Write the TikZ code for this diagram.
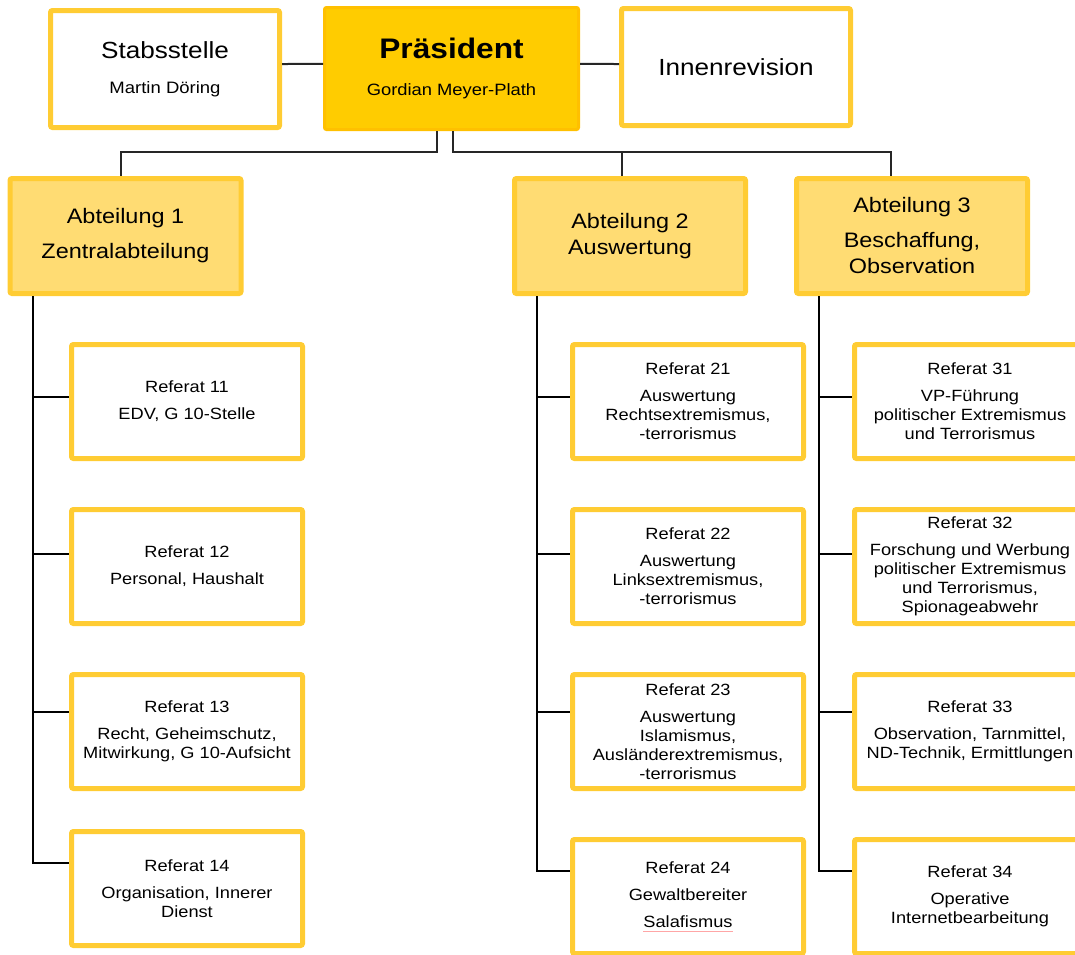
\documentclass[tikz,border=0pt]{standalone}
\usepackage{fontspec}
\setmainfont{Liberation Sans}[FakeStretch=1.12]
\definecolor{rahmen}{HTML}{FFCC33}
\definecolor{abtgelb}{HTML}{FFDC73}
\definecolor{praesgelb}{HTML}{FFCC00}
\definecolor{praesrand}{HTML}{FFC000}
\newsavebox\spellbox
\newcommand\spellmark[1]{\sbox\spellbox{#1}\rlap{\textcolor{red!35}{\rule[-2.5pt]{\wd\spellbox}{0.4pt}}}\usebox\spellbox}
\newcommand\refsize{\fontsize{12.2}{14.25}\selectfont}
\newcommand\abtsize{\fontsize{15.7}{19.5}\selectfont}

\begin{document}
\begin{tikzpicture}[x=0.75pt,y=-0.75pt,
	topbox/.style={draw=rahmen,line width=3.75pt,rounded corners=1.5pt,fill=white,align=center,inner sep=0pt,minimum width=171.75pt,minimum height=87.75pt,font=\fontsize{17.5}{21}\selectfont},
	praesbox/.style={draw=praesrand,line width=2.25pt,rounded corners=1.5pt,fill=praesgelb,align=center,inner sep=0pt,minimum width=190.5pt,minimum height=91.5pt,font=\bfseries\fontsize{21.2}{26}\selectfont},
	abtbox/.style={draw=rahmen,line width=3.75pt,rounded corners=1.5pt,fill=abtgelb,align=center,inner sep=0pt,minimum width=173.25pt,minimum height=86.25pt,font=\abtsize},
	refbox/.style={draw=rahmen,line width=3.75pt,rounded corners=1.5pt,fill=white,align=center,inner sep=0pt,minimum width=173.25pt,minimum height=85.5pt,font=\refsize},
	verb/.style={line width=1.1pt,black!85},
	ast/.style={line width=1.5pt,black}]
	\useasboundingbox (0,0) rectangle (1075,954);
	\clip (0,0) rectangle (1075,954);

	\node[topbox] (stab) at (165,69) {Stabsstelle\\[5pt]{\fontsize{12.4}{15}\selectfont Martin Döring}};
	\node[praesbox] (praes) at (451.5,68.5) {Präsident\\[1.5pt]{\normalfont\fontsize{12.3}{15}\selectfont Gordian Meyer-Plath}};
	\node[topbox] (innen) at (736,67) {Innenrevision};

	\node[abtbox] (abt1) at (125.5,236) {Abteilung 1\\[6.75pt]Zentralabteilung};
	\node[abtbox] (abt2) at (630,236) {Abteilung 2\\Auswertung};
	\node[abtbox] (abt3) at (912,236) {Abteilung 3\\[6.75pt]Beschaffung,\\Observation};

	\node[refbox] (ref11) at (187,401.5) {Referat 11\\[6pt]EDV, G 10-Stelle};
	\node[refbox] (ref12) at (187,566.5) {Referat 12\\[6pt]Personal, Haushalt};
	\node[refbox] (ref13) at (187,731.5) {Referat 13\\[6pt]Recht, Geheimschutz,\\Mitwirkung, G 10-Aufsicht};
	\node[refbox] (ref14) at (187,888.5) {Referat 14\\[6pt]Organisation, Innerer\\Dienst};

	\node[refbox] (ref21) at (688,401.5) {Referat 21\\[6pt]Auswertung\\Rechtsextremismus,\\-terrorismus};
	\node[refbox] (ref22) at (688,566.5) {Referat 22\\[6pt]Auswertung\\Linksextremismus,\\-terrorismus};
	\node[refbox] (ref23) at (688,731.5) {Referat 23\\[6pt]Auswertung\\Islamismus,\\Ausländerextremismus,\\-terrorismus};
	\node[refbox] (ref24) at (688,896.5) {Referat 24\\[6pt]Gewaltbereiter\\[6pt]\spellmark{Salafismus}};

	\node[refbox] (ref31) at (970,401.5) {Referat 31\\[6pt]VP-Führung\\politischer Extremismus\\und Terrorismus};
	\node[refbox] (ref32) at (970,566.5) {Referat 32\\[6pt]Forschung und Werbung\\politischer Extremismus\\und Terrorismus,\\Spionageabwehr};
	\node[refbox] (ref33) at (970,731.5) {Referat 33\\[6pt]Observation, Tarnmittel,\\ND-Technik, Ermittlungen};
	\node[refbox] (ref34) at (970,896.5) {Referat 34\\[6pt]Operative\\Internetbearbeitung};

	\draw[verb,line width=1.5pt] ([yshift=3.75pt]stab.east) -- ([yshift=3.4pt]praes.west);
	\draw[verb,line width=1.5pt] ([yshift=3.4pt]praes.east) -- ([yshift=2.25pt]innen.west);

	\coordinate (busL) at (437,152);
	\coordinate (busR) at (453,152);
	\draw[verb] (praes.south -| busL) -- (busL) -| ([xshift=-3.4pt]abt1.north);
	\draw[verb] (praes.south -| busR) -- (busR) -| ([xshift=-15.75pt]abt3.north);
	\draw[verb] ([xshift=-6pt]abt2.north |- busR) -- ([xshift=-6pt]abt2.north);

	\foreach \a in {1,2,3}
		\coordinate (sp\a) at ([xshift=-69.5pt]abt\a.south);
	\foreach \a/\r/\d in {1/11/3.4,1/12/9.4,1/13/14.6,1/14/19.1,2/21/3.4,2/22/9.4,2/23/14.6,2/24/19.1,3/31/3.4,3/32/9.4,3/33/14.6,3/34/19.1}
		\draw[ast] (sp\a) |- ([yshift=\d pt]ref\r.west);
\end{tikzpicture}
\end{document}
